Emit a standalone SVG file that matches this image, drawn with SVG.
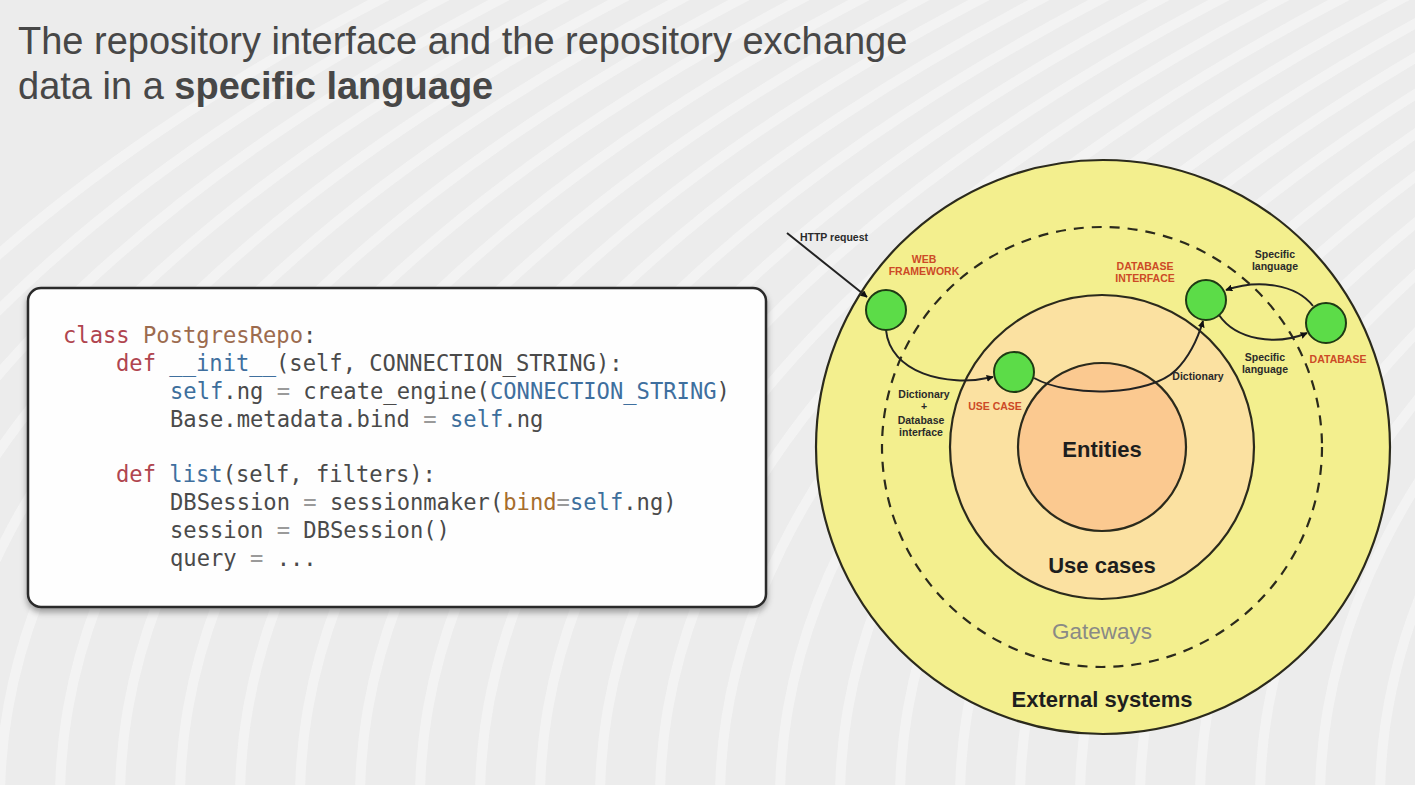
<svg xmlns="http://www.w3.org/2000/svg" width="1415" height="785" viewBox="0 0 1415 785">
  <style>
    .title { font-family: "Liberation Sans", Arial, sans-serif; font-size: 38px; fill: #474747; }
    .code { font-family: "DejaVu Sans Mono", "Liberation Mono", monospace; font-size: 22.15px; fill: #4a4a4a; }
    .kw { fill: #b0454f; }
    .cls { fill: #9c6b4e; }
    .fn { fill: #3f6f9e; }
    .slf { fill: #3d6f9c; }
    .op { fill: #9a9a9a; }
    .arg { fill: #a66d2c; }
    .ring { stroke: #2b2a1c; stroke-width: 2.2; }
    .big { font-family: "Liberation Sans", Arial, sans-serif; font-size: 22px; font-weight: bold; fill: #1e1e1e; text-anchor: middle; }
    .soft { font-family: "Liberation Sans", Arial, sans-serif; font-size: 22.5px; font-weight: normal; fill: #8a8a86; text-anchor: middle; }
    .small { font-family: "Liberation Sans", Arial, sans-serif; font-size: 10.5px; font-weight: bold; fill: #2a2a2a; text-anchor: middle; }
    .red { font-family: "Liberation Sans", Arial, sans-serif; font-size: 10.5px; font-weight: bold; fill: #cc4a26; text-anchor: middle; }
    .node { fill: #5cdc48; stroke: #1f3a14; stroke-width: 2; }
    .conn { fill: none; stroke: #222; stroke-width: 2; }
  </style>
  <defs>
    <marker id="arrow" viewBox="0 0 10 10" refX="9" refY="5" markerWidth="7" markerHeight="7" orient="auto" markerUnits="userSpaceOnUse">
      <path d="M0,0 L10,5 L0,10 z" fill="#111"/>
    </marker>
    <filter id="shadow" x="-5%" y="-5%" width="110%" height="115%">
      <feDropShadow dx="0" dy="4" stdDeviation="3" flood-color="#000" flood-opacity="0.35"/>
    </filter>
  </defs>

  <!-- backdrop with soft sweeping stripes -->
  <rect width="1415" height="785" fill="#ececec"/>
  <path fill="none" stroke="#f7f7f7" stroke-width="10" opacity="0.7"
        d="M-300 800 c 0 -350 350 -650 800 -860 M-240 800 c 0 -350 350 -650 800 -860 M-180 800 c 0 -350 350 -650 800 -860 M-120 800 c 0 -350 350 -650 800 -860 M-60 800 c 0 -350 350 -650 800 -860 M0 800 c 0 -350 350 -650 800 -860 M60 800 c 0 -350 350 -650 800 -860 M120 800 c 0 -350 350 -650 800 -860 M180 800 c 0 -350 350 -650 800 -860 M240 800 c 0 -350 350 -650 800 -860 M300 800 c 0 -350 350 -650 800 -860 M360 800 c 0 -350 350 -650 800 -860 M420 800 c 0 -350 350 -650 800 -860 M480 800 c 0 -350 350 -650 800 -860 M540 800 c 0 -350 350 -650 800 -860 M600 800 c 0 -350 350 -650 800 -860 M660 800 c 0 -350 350 -650 800 -860 M720 800 c 0 -350 350 -650 800 -860 M780 800 c 0 -350 350 -650 800 -860 M840 800 c 0 -350 350 -650 800 -860 M900 800 c 0 -350 350 -650 800 -860 M960 800 c 0 -350 350 -650 800 -860 M1020 800 c 0 -350 350 -650 800 -860 M1080 800 c 0 -350 350 -650 800 -860 M1140 800 c 0 -350 350 -650 800 -860 M1200 800 c 0 -350 350 -650 800 -860 M1260 800 c 0 -350 350 -650 800 -860 M1320 800 c 0 -350 350 -650 800 -860 M1380 800 c 0 -350 350 -650 800 -860"/>

  <!-- heading -->
  <text class="title" x="18" y="54">The repository interface and the repository exchange</text>
  <text class="title" x="18" y="99">data in a <tspan font-weight="bold">specific language</tspan></text>

  <!-- code panel -->
  <g id="code-panel">
    <rect x="28" y="288" width="738" height="319" rx="13" fill="#fefefe" stroke="#2a2a2a" stroke-width="2.5" filter="url(#shadow)"/>
    <text class="code" x="63" y="343"><tspan class="kw">class</tspan> <tspan class="cls">PostgresRepo</tspan>:</text>
    <text class="code" x="116" y="371"><tspan class="kw">def</tspan> <tspan class="fn">__init__</tspan>(self, CONNECTION_STRING):</text>
    <text class="code" x="170" y="399"><tspan class="slf">self</tspan>.ng <tspan class="op">=</tspan> create_engine(<tspan class="fn">CONNECTION_STRING</tspan>)</text>
    <text class="code" x="170" y="427">Base.metadata.bind <tspan class="op">=</tspan> <tspan class="slf">self</tspan>.ng</text>
    <text class="code" x="116" y="482"><tspan class="kw">def</tspan> <tspan class="fn">list</tspan>(self, filters):</text>
    <text class="code" x="170" y="510">DBSession <tspan class="op">=</tspan> sessionmaker(<tspan class="arg">bind</tspan><tspan class="op">=</tspan><tspan class="slf">self</tspan>.ng)</text>
    <text class="code" x="170" y="538">session <tspan class="op">=</tspan> DBSession()</text>
    <text class="code" x="170" y="566">query <tspan class="op">=</tspan> ...</text>
  </g>

  <!-- architecture rings -->
  <g id="external-systems">
    <circle class="ring" cx="1103" cy="447" r="287" fill="#f3ef8e"/>
    <text class="big" x="1102" y="707">External systems</text>
  </g>
  <g id="gateways">
    <circle cx="1102" cy="447" r="220" fill="none" stroke="#2b2a1c" stroke-width="2.2" stroke-dasharray="10 8"/>
    <text class="soft" x="1102" y="639">Gateways</text>
  </g>
  <g id="use-cases">
    <circle class="ring" cx="1102" cy="447" r="152" fill="#fbe1a1"/>
    <text class="big" x="1102" y="573">Use cases</text>
  </g>
  <g id="entities">
    <circle class="ring" cx="1102" cy="447" r="84" fill="#fbc990"/>
    <text class="big" x="1102" y="457">Entities</text>
  </g>

  <!-- connectors -->
  <g id="connectors">
    <path class="conn" d="M787 233 L867 297" marker-end="url(#arrow)"/>
    <path class="conn" d="M886 330 C 890 372, 945 388, 993 377" marker-end="url(#arrow)"/>
    <path class="conn" d="M1034 378 C 1070 398, 1150 396, 1176 370 C 1190 356, 1198 338, 1203 321" marker-end="url(#arrow)"/>
    <path class="conn" d="M1313 306 C 1296 284, 1258 279, 1226 290" marker-end="url(#arrow)"/>
    <path class="conn" d="M1219 315 C 1236 340, 1276 346, 1307 333" marker-end="url(#arrow)"/>
  </g>

  <!-- connector labels -->
  <g id="connector-labels">
    <text class="small" x="834" y="241">HTTP request</text>
    <text class="small" x="1198" y="380">Dictionary</text>
    <text class="small" x="924" y="398">Dictionary</text>
    <text class="small" x="924" y="410">+</text>
    <text class="small" x="921" y="424">Database</text>
    <text class="small" x="921" y="436">interface</text>
    <text class="small" x="1275" y="258">Specific</text>
    <text class="small" x="1275" y="270">language</text>
    <text class="small" x="1265" y="361">Specific</text>
    <text class="small" x="1265" y="373">language</text>
  </g>

  <!-- components -->
  <g id="web-framework">
    <circle class="node" cx="886" cy="310" r="20"/>
    <text class="red" x="924" y="263">WEB</text>
    <text class="red" x="924" y="275">FRAMEWORK</text>
  </g>
  <g id="use-case">
    <circle class="node" cx="1014" cy="372" r="20"/>
    <text class="red" x="995" y="410">USE CASE</text>
  </g>
  <g id="database-interface">
    <circle class="node" cx="1206" cy="300" r="20"/>
    <text class="red" x="1145" y="270">DATABASE</text>
    <text class="red" x="1145" y="282">INTERFACE</text>
  </g>
  <g id="database">
    <circle class="node" cx="1326" cy="323" r="20"/>
    <text class="red" x="1338" y="363">DATABASE</text>
  </g>
</svg>
